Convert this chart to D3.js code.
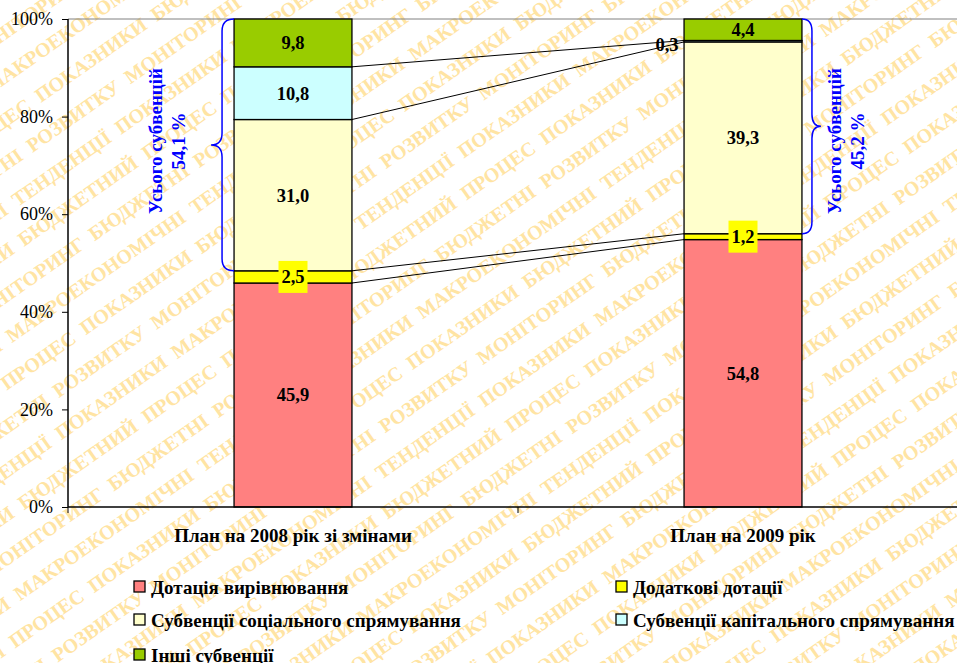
<!DOCTYPE html>
<html><head><meta charset="utf-8">
<script src="https://cdn.jsdelivr.net/npm/d3@7/dist/d3.min.js"></script>
<style>
html,body{margin:0;padding:0;background:#fff;}
svg text{font-family:'Liberation Serif','Tinos','DejaVu Serif',serif;}
</style></head>
<body>
<svg id="c" width="957" height="663"></svg>
<script>
const categories = ["План на 2008 рік зі змінами", "План на 2009 рік"];
const seriesNames = ["Дотація вирівнювання", "Додаткові дотації", "Субвенції соціального спрямування", "Субвенції капітального спрямування", "Інші субвенції"];
const values2008 = [45.9, 2.5, 31.0, 10.8, 9.8];
const values2009 = [54.8, 1.2, 39.3, 0.3, 4.4];
const seriesColors = ["#ff8080", "#ffff00", "#ffffcc", "#ccffff", "#99cc00"];
const yTicks = [0, 20, 40, 60, 80, 100];
const braceLabels = [["Усього субвенцій", "54,1 %"], ["Усього субвенцій", "45,2 %"]];
const watermarkWords = ["МОНІТОРИНГ", "ПРОЦЕС", "МАКРОЕКОНОМІЧНІ", "БЮДЖЕТНІ", "ПОКАЗНИКИ", "ТЕНДЕНЦІЇ", "РОЗВИТКУ", "БЮДЖЕТНИЙ", "ПОКАЗНИКИ"];

const FONT = "'Liberation Serif','Tinos','DejaVu Serif',serif";
const svg = d3.select("#c");
const W = 957, H = 663;
const margin = {left: 68, top: 19, bottom: 507, right: 968};

// watermark
const wm = svg.append("g").attr("transform", "rotate(-35)");
for (let r = -28; r < 46; r++) {
  let s = "";
  for (let k = 0; k < 28; k++) s += watermarkWords[(k * 3 + r * 5 + 40) % watermarkWords.length] + "  ";
  wm.append("text").attr("x", -900 + (r % 3) * 40).attr("y", r * 36)
    .attr("fill", "#ffe4a3").attr("font-weight", "bold").attr("font-size", 20).attr("font-family", FONT)
    .style("white-space", "pre").text(s);
}

const x = d3.scaleBand().domain(categories).range([margin.left, margin.right])
  .paddingInner(0.738).paddingOuter(0.369);
const y = d3.scaleLinear().domain([0, 100]).range([margin.bottom, margin.top]);

const data = [values2008, values2009];
const stacks = data.map(vals => {
  let acc = 0;
  return vals.map((v, i) => { const s = {i, v, y0: acc, y1: acc + v}; acc += v; return s; });
});

svg.append("line").attr("x1", margin.left).attr("x2", W).attr("y1", y(100)).attr("y2", y(100))
  .attr("stroke", "#808080").attr("stroke-width", 1);

for (let i = 0; i < seriesNames.length - 1; i++) {
  const a = stacks[0][i].y1, b = stacks[1][i].y1;
  svg.append("line")
    .attr("x1", x(categories[0]) + x.bandwidth()).attr("y1", y(a))
    .attr("x2", x(categories[1])).attr("y2", y(b))
    .attr("stroke", "#000").attr("stroke-width", 1);
}

categories.forEach((c, ci) => {
  const g = svg.append("g");
  g.selectAll("rect").data(stacks[ci]).enter().append("rect")
    .attr("x", x(c)).attr("width", x.bandwidth())
    .attr("y", d => y(d.y1)).attr("height", d => y(d.y0) - y(d.y1))
    .attr("fill", d => seriesColors[d.i]).attr("stroke", "#000").attr("stroke-width", 1.3);
});

const yAxis = d3.axisLeft(y).tickValues(yTicks).tickFormat(d => d + "%").tickSize(6).tickPadding(9);
const ya = svg.append("g").attr("transform", `translate(${margin.left},0)`).call(yAxis)
  .attr("font-family", FONT);
ya.select(".domain").attr("stroke", "#000").attr("stroke-width", 1.5).attr("d", `M0,${y(100)}V${y(0)}`);
ya.selectAll("text").attr("font-family", FONT).attr("font-size", 18).attr("fill", "#000");
ya.selectAll(".tick line").attr("stroke", "#000");

svg.append("line").attr("x1", margin.left).attr("x2", W).attr("y1", y(0)).attr("y2", y(0))
  .attr("stroke", "#000").attr("stroke-width", 1.5);
[margin.left, (x(categories[0]) + x(categories[1]) + x.bandwidth()) / 2].forEach(tx => {
  svg.append("line").attr("x1", tx).attr("x2", tx).attr("y1", y(0)).attr("y2", y(0) + 6).attr("stroke", "#000");
});

categories.forEach(c => {
  svg.append("text").attr("x", x(c) + x.bandwidth() / 2).attr("y", 542).attr("font-family", FONT)
    .attr("text-anchor", "middle").attr("font-weight", "bold").attr("font-size", 19).text(c);
});

const fmt = v => v.toFixed(1).replace(".", ",");
categories.forEach((c, ci) => {
  stacks[ci].forEach(d => {
    let cx = x(c) + x.bandwidth() / 2, cy = y((d.y0 + d.y1) / 2);
    if (ci === 1 && d.i === 3) { cx = x(c) - 17; cy += 3; }
    if (d.i === 1) {
      svg.append("rect").attr("x", cx - 14.5).attr("y", cy - 16).attr("width", 29).attr("height", 32)
        .attr("fill", "#ffff00");
    }
    svg.append("text").attr("x", cx).attr("y", cy).attr("dy", "0.35em").attr("font-family", FONT)
      .attr("text-anchor", "middle").attr("font-weight", "bold").attr("font-size", 18.5).text(fmt(d.v));
  });
});

function brace(x0, xv, xt, yTop, yBot) {
  const m = (yTop + yBot) / 2, r = 12;
  return `M${x0},${yTop} Q${xv},${yTop} ${xv},${yTop + r} L${xv},${m - r} Q${xv},${m} ${xt},${m}` +
         ` Q${xv},${m} ${xv},${m + r} L${xv},${yBot - r} Q${xv},${yBot} ${x0},${yBot}`;
}
const b0L = x(categories[0]);
svg.append("path").attr("d", brace(b0L, b0L - 12, b0L - 23, y(100), y(stacks[0][1].y1)))
  .attr("fill", "none").attr("stroke", "#0000ff").attr("stroke-width", 1.5);
const b1R = x(categories[1]) + x.bandwidth();
svg.append("path").attr("d", brace(b1R, b1R + 10, b1R + 19, y(100), y(stacks[1][1].y1)))
  .attr("fill", "none").attr("stroke", "#0000ff").attr("stroke-width", 1.5);

function braceText(cx, cy, lines) {
  const t = svg.append("text").attr("transform", `translate(${cx},${cy}) rotate(-90)`).attr("font-family", FONT)
    .attr("text-anchor", "middle").attr("font-weight", "bold").attr("font-size", 19).attr("fill", "#0000ff");
  lines.forEach((l, i) => t.append("tspan").attr("x", 0).attr("y", (i - 0.5) * 23 + 6).text(l));
}
braceText(167, 141, braceLabels[0]);
braceText(846, 141, braceLabels[1]);

const legendPos = [[134, 587], [616, 587], [134, 620], [616, 620], [134, 655]];
seriesNames.forEach((n, i) => {
  const [lx, ly] = legendPos[i];
  svg.append("rect").attr("x", lx).attr("y", ly - 6).attr("width", 11).attr("height", 11)
    .attr("fill", seriesColors[i]).attr("stroke", "#000").attr("stroke-width", 1.3);
  svg.append("text").attr("x", lx + 17).attr("y", ly).attr("dy", "0.35em").attr("font-family", FONT)
    .attr("font-weight", "bold").attr("font-size", 19).text(n);
});
</script>
</body></html>
